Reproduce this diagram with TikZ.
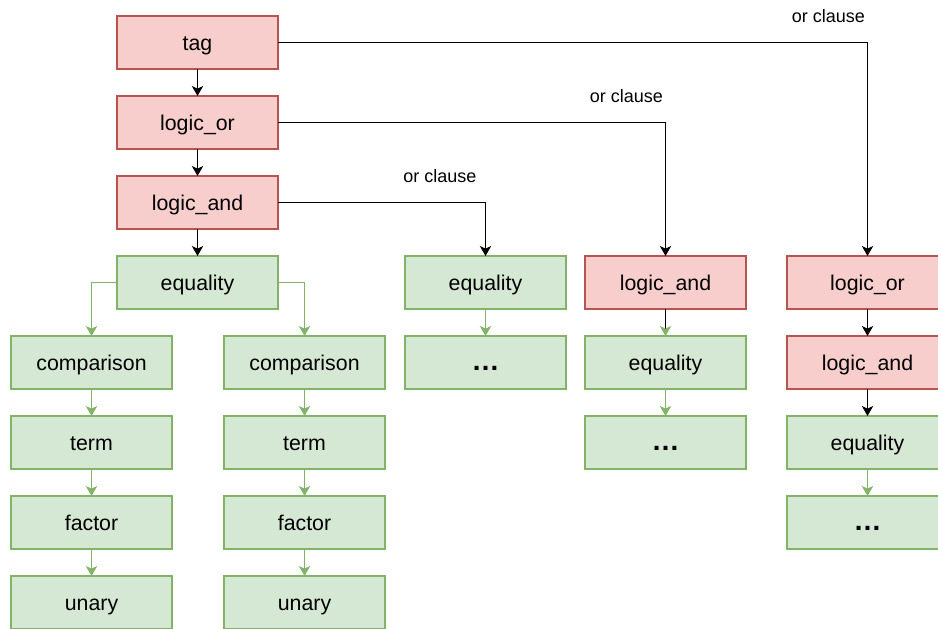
\documentclass[tikz,border=0pt]{standalone}
\usepackage{fontspec}
\setmainfont{Liberation Sans}
\usetikzlibrary{positioning,arrows.meta}
\definecolor{redfill}{HTML}{F8CECC}
\definecolor{redline}{HTML}{B85450}
\definecolor{greenfill}{HTML}{D5E8D4}
\definecolor{greenline}{HTML}{82B366}

\begin{document}
\begin{tikzpicture}[
  x=0.75pt, y=-0.75pt,
  node distance=20.25pt,
  box/.style={draw, line width=1pt, outer sep=0pt, minimum width=120.75pt, minimum height=39.75pt, inner sep=0pt,
    font=\fontsize{16}{19}\selectfont, text height=12pt, text depth=0pt},
  redbox/.style={box, fill=redfill, draw=redline},
  greenbox/.style={box, fill=greenfill, draw=greenline},
  arr/.style={-{Stealth[length=7.5pt,width=8.5pt,inset=2pt]}, line width=1pt},
  garr/.style={arr, draw=greenline},
  lbl/.style={font=\fontsize{13.5}{16}\selectfont, inner sep=0pt, anchor=south east}
]
\newcommand{\more}{{\fontsize{21}{24}\selectfont\bfseries …}}
\useasboundingbox (0,0) rectangle (938,628);

% main chain
\node[redbox] (tag) at (197.5,42.5) {tag};
\node[redbox, below=of tag] (or1) {logic\_or};
\node[redbox, below=of or1] (and1) {logic\_and};
\node[greenbox, below=of and1] (eq1) {equality};

% two branches under equality
\node[greenbox, below=of eq1, xshift=-79.5pt] (cmpA) {comparison};
\node[greenbox, below=of cmpA] (termA) {term};
\node[greenbox, below=of termA] (factA) {factor};
\node[greenbox, below=of factA] (unA) {unary};
\node[greenbox, below=of eq1, xshift=80.25pt] (cmpB) {comparison};
\node[greenbox, below=of cmpB] (termB) {term};
\node[greenbox, below=of termB] (factB) {factor};
\node[greenbox, below=of factB] (unB) {unary};

% or clauses
\node[greenbox, right=95.25pt of eq1] (eq2) {equality};
\node[greenbox, below=of eq2] (dots2) {\more};
\node[redbox, right=14.25pt of eq2] (and3) {logic\_and};
\node[greenbox, below=of and3] (eq3) {equality};
\node[greenbox, below=of eq3] (dots3) {\more};
\node[redbox, right=30.75pt of and3] (or4) {logic\_or};
\node[redbox, below=of or4] (and4) {logic\_and};
\node[greenbox, below=of and4] (eq4) {equality};
\node[greenbox, below=of eq4] (dots4) {\more};

\draw[arr] (tag) -- (or1);
\draw[arr] (or1) -- (and1);
\draw[arr] (and1) -- (eq1);
\draw[arr] (tag) -| (or4) node[lbl, pos=0.5, xshift=-1.5pt, yshift=14pt] (cl1) {or clause};
\draw[arr] (or1) -| (and3) node[lbl, pos=0.5, xshift=-1.5pt, yshift=14pt] (cl2) {or clause};
\draw[arr] (and1) -| (eq2) node[lbl, pos=0.5, xshift=-6.4pt, yshift=14pt] (cl3) {or clause};
\draw[arr] (or4) -- (and4);
\draw[arr] (and4) -- (eq4);
\draw[line width=1pt, -{Stealth[length=7.5pt,width=8.5pt,inset=2pt,color=greenline]}] (and3) -- (eq3);

\draw[garr] (eq1.west) -| (cmpA.north);
\draw[garr] (eq1.east) -| (cmpB.north);
\draw[garr] (cmpA) -- (termA);
\draw[garr] (termA) -- (factA);
\draw[garr] (factA) -- (unA);
\draw[garr] (cmpB) -- (termB);
\draw[garr] (termB) -- (factB);
\draw[garr] (factB) -- (unB);
\draw[garr] (eq2) -- (dots2);
\draw[garr] (eq3) -- (dots3);
\draw[garr] (eq4) -- (dots4);
\end{tikzpicture}
\end{document}
